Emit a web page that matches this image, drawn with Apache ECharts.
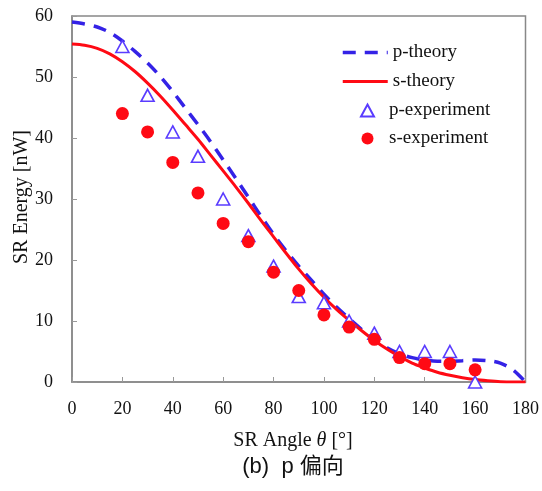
<!DOCTYPE html>
<html>
<head>
<meta charset="utf-8">
<script src="https://cdn.jsdelivr.net/npm/echarts@6/dist/echarts.min.js"></script>
<style>
  html, body { margin: 0; padding: 0; background: #fff; }
  #chart { width: 542px; height: 491px; }
</style>
</head>
<body>
<div id="chart"></div>
<script>
// Angles (degrees) for the theoretical curves
const thetaTheory = [0, 5, 10, 15, 20, 25, 30, 35, 40, 45, 50, 55, 60, 65, 70, 75, 80, 85, 90,
  95, 100, 105, 110, 115, 120, 125, 130, 135, 140, 145, 150, 155, 160, 165, 170, 175, 180];
const pTheory = [59.0, 58.7, 58.2, 57.3, 55.9, 54.2, 52.3, 50.1, 47.6, 44.9, 42.2, 39.4, 36.4, 33.4, 30.3,
  27.2, 24.2, 21.5, 19.0, 16.7, 14.4, 12.3, 10.4, 8.6, 6.9, 5.6, 4.6, 4.0, 3.6, 3.4, 3.4, 3.5, 3.6,
  3.5, 3.1, 2.0, 0.0];
const sTheory = [55.4, 55.2, 54.7, 53.8, 52.5, 50.9, 49.0, 46.9, 44.6, 42.2, 39.8, 37.2, 34.6, 32.0, 29.3,
  26.5, 23.8, 21.1, 18.5, 16.1, 13.9, 11.9, 10.1, 8.4, 6.8, 5.4, 4.2, 3.1, 2.3, 1.6, 1.1, 0.7, 0.4,
  0.2, 0.05, 0.0, 0.0];

// Measured angles and energies
const thetaExp = [20, 30, 40, 50, 60, 70, 80, 90, 100, 110, 120, 130, 140, 150, 160];
const pExperiment = [55, 47, 41, 37, 30, 24, 19, 14, 13, 10, 8, 5, 5, 5, 0];
const sExperiment = [44, 41, 36, 31, 26, 23, 18, 15, 11, 9, 7, 4, 3, 3, 2];

// Axis ticks
const xTicks = [0, 20, 40, 60, 80, 100, 120, 140, 160, 180];
const yTicks = [0, 10, 20, 30, 40, 50, 60];

const zip = (xs, ys) => xs.map((x, i) => [x, ys[i]]);

const serif = '"Liberation Serif", "DejaVu Serif", serif';
const legendText = { fontFamily: serif, fontSize: 19, color: '#111' };
const chart = echarts.init(document.getElementById('chart'), null, { renderer: 'canvas' });

chart.setOption({
  animation: false,
  backgroundColor: '#fff',
  grid: {
    left: 72, right: 15, top: 16, bottom: 109,
    show: true, borderColor: '#888', borderWidth: 1.5, backgroundColor: 'transparent'
  },
  legend: [
    {
      // line entries: long line icons
      orient: 'vertical',
      left: 336, top: 38,
      itemWidth: 45, itemHeight: 14, itemGap: 10,
      textStyle: legendText,
      data: [
        { name: 'p-theory', itemStyle: { opacity: 0 }, lineStyle: { width: 3.5 } },
        { name: 's-theory', itemStyle: { opacity: 0 }, lineStyle: { width: 3 } }
      ]
    },
    {
      // marker entries: small symbols centred under the line icons
      orient: 'vertical',
      left: 355, top: 96,
      itemWidth: 13, itemHeight: 12, itemGap: 9,
      textStyle: Object.assign({}, legendText, { padding: [0, 0, 0, 10] }),
      data: ['p-experiment', 's-experiment']
    }
  ],
  xAxis: {
    type: 'value',
    min: xTicks[0], max: xTicks[xTicks.length - 1], interval: 20,
    axisLine: { lineStyle: { color: '#888', width: 1.5 } },
    axisTick: { inside: true, length: 5, lineStyle: { color: '#999' } },
    axisLabel: { margin: 18, fontFamily: serif, fontSize: 18, color: '#111' },
    splitLine: { show: false }
  },
  yAxis: {
    type: 'value',
    min: yTicks[0], max: yTicks[yTicks.length - 1], interval: 10,
    axisLine: { show: true, lineStyle: { color: '#888', width: 1.5 } },
    axisTick: { show: true, inside: true, length: 5, lineStyle: { color: '#999' } },
    axisLabel: { margin: 19, fontFamily: serif, fontSize: 18, color: '#111' },
    splitLine: { show: false }
  },
  graphic: [
    {
      type: 'text', x: 22, y: 197, rotation: Math.PI / 2,
      style: { text: 'SR Energy [nW]', font: '20px ' + serif, fill: '#111', align: 'center', verticalAlign: 'middle' }
    },
    {
      type: 'text', x: 293, y: 441,
      style: {
        rich: {
          n: { fontFamily: serif, fontSize: 20, fill: '#111' },
          i: { fontFamily: serif, fontSize: 20, fontStyle: 'italic', fill: '#111' }
        },
        text: '{n|SR Angle }{i|θ}{n| [°]}',
        align: 'center', verticalAlign: 'middle'
      }
    },
    {
      type: 'text', x: 293, y: 467,
      style: {
        text: '(b)  p 偏向',
        font: '22px "Liberation Sans", "Noto Sans CJK SC", sans-serif',
        fill: '#111', align: 'center', verticalAlign: 'middle'
      }
    }
  ],
  series: [
    {
      name: 'p-theory', type: 'line', smooth: 0.3, showSymbol: false, symbol: 'none',
      data: zip(thetaTheory, pTheory),
      lineStyle: { color: '#3422e6', width: 3.5, type: [13, 9] },
      itemStyle: { color: '#3422e6' }, z: 3
    },
    {
      name: 's-theory', type: 'line', smooth: 0.3, showSymbol: false, symbol: 'none',
      data: zip(thetaTheory, sTheory),
      lineStyle: { color: '#ff0a14', width: 3 },
      itemStyle: { color: '#ff0a14' }, z: 4
    },
    {
      name: 'p-experiment', type: 'scatter', symbol: 'triangle', symbolSize: [13, 12],
      data: zip(thetaExp, pExperiment),
      itemStyle: { color: '#fff', borderColor: '#5a3cff', borderWidth: 1.6, opacity: 1 }, z: 5
    },
    {
      name: 's-experiment', type: 'scatter', symbol: 'circle', symbolSize: 13,
      data: zip(thetaExp, sExperiment),
      itemStyle: { color: '#ff0a14', opacity: 1 }, z: 6
    }
  ]
});
</script>
</body>
</html>
